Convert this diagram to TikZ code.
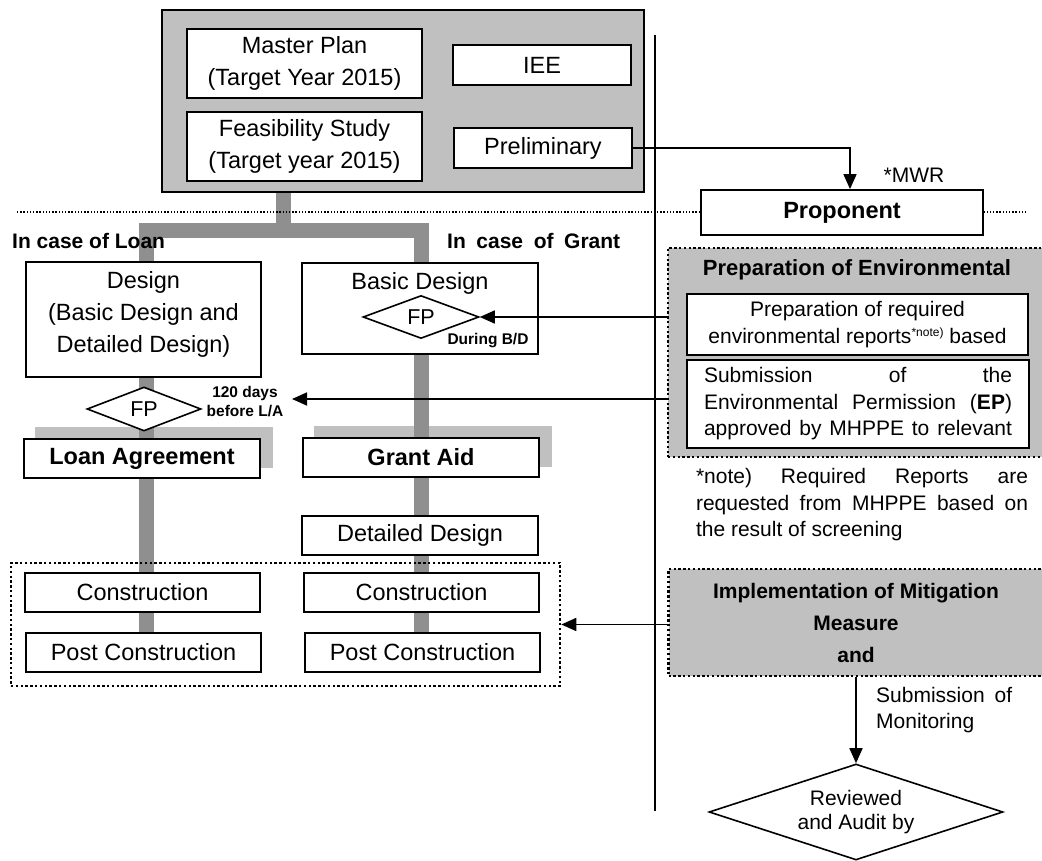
\documentclass[tikz,border=0pt]{standalone}
\usepackage{fontspec}
\setmainfont{Liberation Sans}
\usetikzlibrary{arrows.meta,shapes.geometric}
\pgfdeclarelayer{bg}
\pgfdeclarelayer{mid}
\pgfsetlayers{bg,mid,main}
\definecolor{lg}{RGB}{192,192,192}
\definecolor{dg}{RGB}{143,143,143}
\newcommand{\fMain}{\fontsize{23.5}{32}\selectfont}
\newcommand{\fBig}{\fontsize{23.5}{32}\selectfont\bfseries}
\newcommand{\fMid}{\fontsize{21}{26.5}\selectfont}
\newcommand{\fMidB}{\fontsize{21}{32}\selectfont\bfseries}
\newcommand{\fSm}{\fontsize{15.5}{19}\selectfont\bfseries}
\begin{document}
\begin{tikzpicture}[x=1pt,y=-1pt,
  every node/.style={inner sep=0pt},
  box/.style={draw=black,line width=1.8pt,fill=white,rectangle,align=center,font=\fMain},
  dotbox/.style={draw=black,line width=2.6pt,dash pattern=on 2.4pt off 2.4pt,rectangle},
  diam/.style={draw=black,line width=1.6pt,fill=white,diamond,aspect=2.6,font=\fontsize{21.5}{24}\selectfont},
  arr/.style={line width=1.7pt,-{Triangle[length=15pt,width=13pt]}},
  conn/.style={dg,line width=15pt,line join=miter}]
\useasboundingbox (0,0) rectangle (1042,861);

% top block
\node[box,fill=lg,minimum width=482pt,minimum height=182pt] (top) at (403,101) {};
\node[box,minimum width=235pt,minimum height=69pt] (mp) at (304.5,63.5) {Master Plan\\(Target Year 2015)};
\node[box,minimum width=235pt,minimum height=69pt] (fs) at (304.5,146.5) {Feasibility Study\\(Target year 2015)};
\node[box,minimum width=178pt,minimum height=40pt] (iee) at (542,65) {IEE};
\node[box,minimum width=178pt,minimum height=40pt] (pre) at (543,148) {Preliminary};

\node[box,font=\fBig,minimum width=282pt,minimum height=45pt] (prop) at (842,212.5) {Proponent};
\node[font=\fMid] (mwr) at (914,175) {*MWR};

\node[anchor=west,font=\fMidB] (loanlbl) at (12,241) {In case of Loan};
\node[anchor=west,font=\fMidB] (grantlbl) at (447,241) {\makebox[173pt][s]{In case of Grant}};

% left column
\node[box,minimum width=235pt,minimum height=115pt] (design) at (143.5,319.5) {};
\node[font=\fMain,align=center] (designtxt) at (143.5,314) {Design\\(Basic Design and\\Detailed Design)};
\node[diam,minimum width=114pt,minimum height=44pt] (fp1) at (144,409) {FP};
\node[font=\fSm,align=center] (la) at (245,402) {120 days\\before L/A};
\node[box,font=\fBig,minimum width=236pt,minimum height=39pt] (loan) at (142,458.5) {Loan Agreement};

% middle column
\node[box,minimum width=236pt,minimum height=91pt] (bd) at (420,308.5) {};
\node[font=\fMain] (bdtxt) at (420,283) {Basic Design};
\node[diam,minimum width=116pt,minimum height=43pt] (fp2) at (421,317) {FP};
\node[font=\fSm] (during) at (488,341) {During B/D};
\node[box,font=\fBig,minimum width=236pt,minimum height=39pt] (grant) at (421,457.5) {Grant Aid};
\node[box,minimum width=236pt,minimum height=39pt] (dd) at (420,535.5) {Detailed Design};

% construction group
\node[dotbox,minimum width=549pt,minimum height=123pt] (grp) at (285.5,624.5) {};
\node[box,minimum width=235pt,minimum height=39pt] (con1) at (142.5,592.5) {Construction};
\node[box,minimum width=235pt,minimum height=39pt] (post1) at (143.5,652.5) {Post Construction};
\node[box,minimum width=235pt,minimum height=39pt] (con2) at (421.5,592.5) {Construction};
\node[box,minimum width=235pt,minimum height=39pt] (post2) at (422.5,652.5) {Post Construction};

% right side
\node[dotbox,fill=lg,minimum width=375pt,minimum height=209pt] (env) at (855.5,352.5) {};
\node[font=\fontsize{22}{26}\selectfont\bfseries] (envtitle) at (857,270) {Preparation of Environmental};
\node[box,font=\fMid,minimum width=341pt,minimum height=61pt] (env1) at (857.5,324.5)
  {Preparation of required\\environmental reports\raisebox{7pt}{\fontsize{12}{12}\selectfont *note)} based};
\node[box,font=\fMid,minimum width=342pt,minimum height=88pt] (env2) at (858,404)
  {\makebox[308pt][s]{Submission of the}\\\makebox[308pt][s]{Environmental Permission (\textbf{EP})}\\\makebox[308pt][s]{approved by MHPPE to relevant}};
\node[font=\fMid,align=center] (note) at (862,505)
  {\makebox[332pt][s]{*note) Required Reports are}\\\makebox[332pt][s]{requested from MHPPE based on}\\\makebox[332pt][l]{the result of screening}};
\node[dotbox,fill=lg,minimum width=375pt,minimum height=107pt,font=\fMidB,align=center] (impl) at (856,622.5)
  {Implementation of Mitigation\\Measure\\and};
\node[font=\fMid,align=left,anchor=west] (subm) at (876,710) {\makebox[136pt][s]{Submission of}\\Monitoring};
\node[diam,aspect=3,minimum width=294pt,minimum height=96pt,font=\fontsize{21}{24}\selectfont,align=center] (rev) at (856,812) {Reviewed\\and Audit by};

% arrows
\draw[arr] (pre.east) -| ([xshift=8pt]prop.north);
\draw[arr] (env.west |- fp2.east) -- (fp2.east);
\coordinate (laend) at (292,399);
\draw[arr] (env.west |- laend) -- (laend);
\draw[arr] ([yshift=-2pt]impl.west) -- ([yshift=-2pt]impl.west -| grp.east);
\draw[arr] (impl.south -| rev.north) -- (rev.north);

\begin{pgfonlayer}{bg}
  \fill[white] (0,0) rectangle (1042,861);
  \fill[lg] ([shift={(12,-11)}]loan.south west) rectangle ([shift={(12,-11)}]loan.north east);
  \fill[lg] ([shift={(12,-11)}]grant.south west) rectangle ([shift={(12,-11)}]grant.north east);
\end{pgfonlayer}
\begin{pgfonlayer}{mid}
  \coordinate (split) at (283,230.5);
  \draw[conn] ([xshift=2.5pt]post1.north) |- (split) -| ([xshift=-1.5pt]post2.north);
  \draw[conn] (top.south -| split) -- (split);
  \draw[line width=1.3pt,dash pattern=on 1.3pt off 1.9pt] (17,212) -- (1028,212);
  \draw[line width=1.4pt] (655,35) -- (655,811);
\end{pgfonlayer}
\end{tikzpicture}
\end{document}
